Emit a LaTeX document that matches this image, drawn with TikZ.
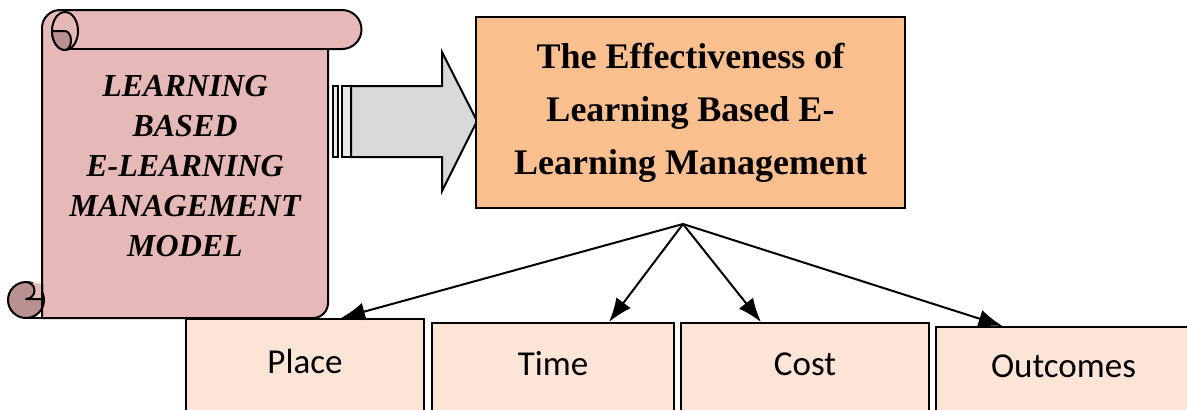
\documentclass[tikz,border=0pt]{standalone}
\usepackage{fontspec}
\setmainfont{Liberation Serif}
\newfontfamily\calibri{Carlito}
\usetikzlibrary{arrows.meta, positioning}
\definecolor{scrollpink}{HTML}{E6B8B7}
\definecolor{curldark}{HTML}{B99191}
\definecolor{effectorange}{HTML}{F9BF8F}
\definecolor{leafpeach}{HTML}{FCE4D6}
\definecolor{shaftgray}{HTML}{D9D9D9}

\begin{document}
\begin{tikzpicture}[x=0.5pt, y=-0.5pt, >={Latex[length=12pt,width=9pt]}, line width=1pt,
    scroll/.style={draw=black, fill=scrollpink, line join=round},
    curl/.style={draw=black, fill=curldark, line join=round},
    band/.style={draw=black, fill=shaftgray!60},
    effect/.style={draw=black, fill=effectorange, line width=1.2pt, minimum width=214.5pt, minimum height=95.5pt, inner sep=0pt, align=center, font=\fontsize{18}{26.5}\selectfont\bfseries},
    leaf/.style={draw=black, fill=leafpeach, anchor=north west, inner sep=0pt, text height=12pt, text depth=5pt, font=\calibri\fontsize{17.5}{20}\selectfont}]

\useasboundingbox (0,0) rectangle (1187,409);

% scroll
\draw[scroll] (42,318) -- (42,28) arc[start angle=180, end angle=270, radius=18] -- (342,10)
    arc[start angle=270, end angle=450, radius=19.5] -- (328,49) -- (328,303)
    arc[start angle=0, end angle=90, radius=15] -- cycle;
\draw (65,49) -- (328,49);
\draw[scroll] (65,31) ellipse [x radius=13, y radius=19];
\draw[curl] (52,31) arc[start angle=180, end angle=90, x radius=13, y radius=19]
    arc[start angle=90, end angle=-90, x radius=6, y radius=9.5] -- cycle;
\draw[curl] (26,300) circle (18);
\draw[scroll] (26,282) arc[start angle=270, end angle=450, radius=8.5] -- (42,299) -- (42,284);
\draw (42,299) -- (42,318) -- (26,318);

\node[align=center, font=\fontsize{16}{20}\selectfont\bfseries\itshape] (model) at (185,166)
    {LEARNING\\BASED\\E-LEARNING\\MANAGEMENT\\MODEL};

% block arrow
\draw[fill=shaftgray, line join=miter] (351,86) -- (442,86) -- (442,52) -- (477,121) -- (442,191) -- (442,157) -- (351,157) -- cycle;
\draw[band] (333,86) rectangle (338,157);
\draw[band] (342,86) rectangle (351,157);

\node[effect] (effect) at (690.5,112.5) {The Effectiveness of\\Learning Based E-\\Learning Management};

% outcomes row
\node[leaf, minimum width=119pt, minimum height=47pt] (place) at (185,318) {Place};
\node[leaf, minimum width=121pt, minimum height=45pt] (time) at (431,322) {Time};
\node[leaf, minimum width=124pt, minimum height=45pt] (cost) at (680,322) {Cost};
\node[leaf, minimum width=127.5pt, minimum height=43pt] (outcomes) at (935,326) {Outcomes};

\coordinate (fan) at (683,224);
\draw[->] (fan) -- ([xshift=18pt]place.north);
\draw[->] (fan) -- ([xshift=28pt]time.north);
\draw[->] (fan) -- ([xshift=-22pt]cost.north);
\draw[->] (fan) -- ([xshift=-30.5pt]outcomes.north);

\end{tikzpicture}
\end{document}
